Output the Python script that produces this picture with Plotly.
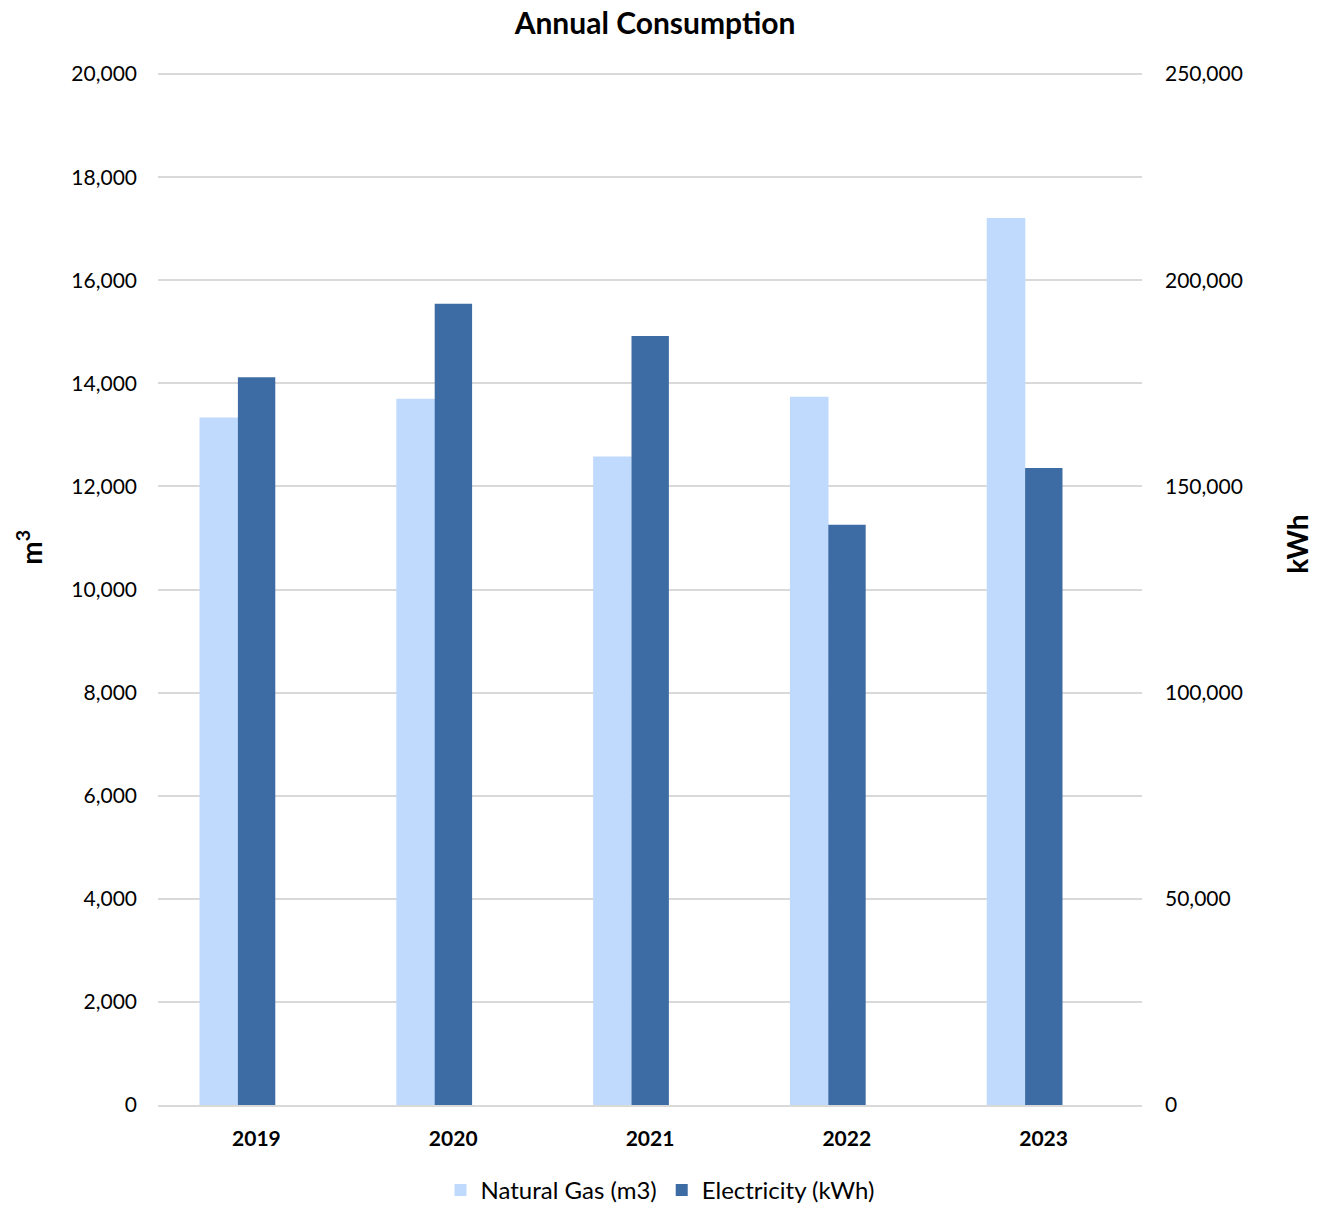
import plotly.graph_objects as go

years = ["2019", "2020", "2021", "2022", "2023"]
gas_m3 = [13340, 13700, 12580, 13740, 17210]
electricity_kwh = [176500, 194300, 186500, 140700, 154500]

left_ticks = [0, 2000, 4000, 6000, 8000, 10000, 12000, 14000, 16000, 18000, 20000]
right_ticks = [0, 50000, 100000, 150000, 200000, 250000]

xpos = list(range(len(years)))
FONT = "Lato, 'Open Sans', sans-serif"

# plot area in pixels (top set slightly above the 20,000 line so it is drawn)
GRID_TOP, BOTTOM, LEFT, RIGHT = 74, 1105.5, 158, 1142
PX_PER_UNIT = (BOTTOM - GRID_TOP) / 20000
EXTRA = 60
TOP = GRID_TOP - EXTRA * PX_PER_UNIT
ph = BOTTOM - TOP
pw = RIGHT - LEFT

fig = go.Figure()
fig.add_trace(go.Bar(
    x=xpos, y=gas_m3, name="Natural Gas (m3)",
    marker=dict(color="#C0DAFD", line=dict(width=0)),
    width=0.196, offset=-0.289, yaxis="y", xaxis="x",
))
fig.add_trace(go.Bar(
    x=xpos, y=electricity_kwh, name="Electricity (kWh)",
    marker=dict(color="#3D6CA4", line=dict(width=0)),
    width=0.19, offset=-0.094, yaxis="y2", xaxis="x",
))

fig.update_layout(
    width=1319, height=1205,
    margin=dict(l=LEFT, r=1319 - RIGHT, t=TOP, b=1205 - BOTTOM, autoexpand=False),
    paper_bgcolor="white", plot_bgcolor="white",
    barmode="overlay",
    font=dict(family=FONT, size=21, color="#000000"),
    title=dict(text="<b>Annual Consumption</b>", x=(655 - LEFT) / pw, xref="paper", xanchor="center",
               y=1 - 23 / 1205, yanchor="middle", font=dict(size=30, family=FONT)),
    xaxis=dict(
        range=[-0.5, 4.5], tickvals=xpos, ticktext=[f"<b>{y}</b>" for y in years],
        showgrid=False, zeroline=False, showline=True, linecolor="#D9D9D9", linewidth=2,
        ticks="", ticklabelstandoff=14, tickfont=dict(size=21),
    ),
    yaxis=dict(
        range=[0, 20000 + EXTRA], tickvals=left_ticks,
        ticktext=[f"{v:,}" for v in left_ticks],
        showgrid=True, gridcolor="#D9D9D9", gridwidth=2, zeroline=False,
        ticks="", ticklabelstandoff=20, tickfont=dict(size=21),
    ),
    yaxis2=dict(
        range=[0, (20000 + EXTRA) * 12.5], tickvals=right_ticks,
        ticktext=[f"{v:,}" for v in right_ticks],
        overlaying="y", side="right", showgrid=False, zeroline=False,
        ticks="", ticklabelstandoff=22, tickfont=dict(size=21),
    ),
    legend=dict(orientation="h", x=(660 - LEFT) / pw, xanchor="center",
                y=-(1191 - BOTTOM) / ph, yanchor="middle", font=dict(size=24),
                itemwidth=30, traceorder="normal"),
    annotations=[
        dict(text="<b>m<sup>3</sup></b>", textangle=-90, x=(30 - LEFT) / pw, xref="paper",
             xanchor="center", yanchor="middle",
             y=1 - (548 - TOP) / ph, yref="paper", showarrow=False, font=dict(size=28)),
        dict(text="<b>kWh</b>", textangle=-90, x=(1297 - LEFT) / pw, xref="paper",
             xanchor="center", yanchor="middle",
             y=1 - (545 - TOP) / ph, yref="paper", showarrow=False, font=dict(size=28)),
    ],
)

fig.write_html("out.html")
